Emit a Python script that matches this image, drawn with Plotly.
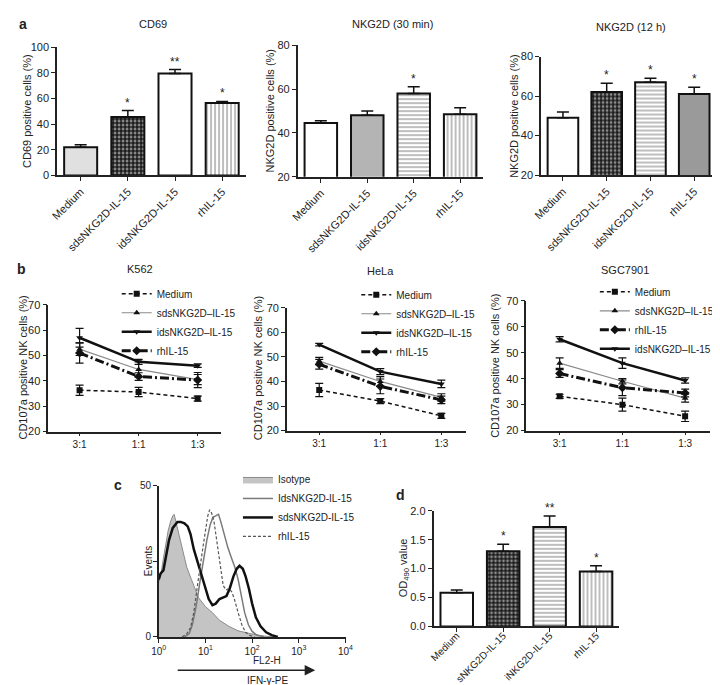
import plotly.graph_objects as go

W, H = 720, 685
FONT = "Liberation Sans, Arial, sans-serif"
INK = "#222222"

# ---------------- data ----------------
cats_a = ["Medium", "sdsNKG2D-IL-15", "idsNKG2D-IL-15", "rhIL-15"]
cd69_vals = [22, 45.5, 79.5, 56.5]
cd69_err = [2, 5, 3, 1.2]
cd69_stars = ["", "*", "**", "*"]

nkg30_vals = [44.5, 48, 58, 48.5]
nkg30_err = [1, 2, 3, 3]
nkg30_stars = ["", "", "*", ""]

nkg12_vals = [49, 62, 67, 61]
nkg12_err = [3, 4.5, 2, 3.5]
nkg12_stars = ["", "*", "*", "*"]

ratios = ["3:1", "1:1", "1:3"]
k562 = {
    "Medium": ([36.3, 35.6, 33.0], [2, 1.8, 1]),
    "sdsNKG2D\u2013IL-15": ([52.5, 44.5, 40.5], [2.5, 3, 2]),
    "idsNKG2D\u2013IL-15": ([57, 47.5, 46], [3.7, 1, 0.7]),
    "rhIL-15": ([51, 41.7, 40.3], [4, 1.5, 3]),
}
hela = {
    "Medium": ([36.5, 32, 26], [2.7, 1, 1]),
    "sdsNKG2D\u2013IL-15": ([48.3, 40, 33.5], [1.5, 2, 1.5]),
    "idsNKG2D\u2013IL-15": ([55, 44, 39], [0.5, 1.2, 1.5]),
    "rhIL-15": ([47, 38, 32.5], [2, 3, 1.5]),
}
sgc = {
    "Medium": ([33.2, 30, 25.5], [0.8, 2.5, 2]),
    "sdsNKG2D\u2013IL-15": ([46, 39, 32.5], [2, 1, 1.5]),
    "rhIL-15": ([42, 36.5, 34.5], [1.5, 3, 1.5]),
    "idsNKG2D\u2013IL-15": ([55.2, 46, 39.3], [1, 2, 1]),
}

iso_logx = [0.0, 0.05, 0.1, 0.15, 0.2, 0.25, 0.3, 0.33, 0.37, 0.42, 0.5, 0.6, 0.7, 0.75, 0.85, 1.0, 1.15, 1.3, 1.5, 1.7, 1.9, 2.1, 2.3, 2.5]
iso_y = [18, 21, 26, 31, 35, 38, 40, 40.5, 38, 34, 29, 23, 19, 17, 13, 10, 8, 5.5, 3.5, 2, 1.2, 0.6, 0.2, 0]
sds_logx = [0.0, 0.04, 0.1, 0.16, 0.22, 0.3, 0.4, 0.47, 0.55, 0.62, 0.68, 0.75, 0.84, 0.92, 1.0, 1.07, 1.15, 1.22, 1.3, 1.38, 1.45, 1.52, 1.6, 1.67, 1.73, 1.8, 1.86, 1.93, 2.0, 2.08, 2.18, 2.3, 2.42, 2.55]
sds_y = [19, 21, 22, 27, 32, 36, 38, 38, 37.5, 36.5, 34, 29, 24.5, 20, 16.5, 12.5, 10.5, 11, 12.5, 13, 13.5, 16, 20, 22.5, 23.5, 22.5, 20, 16, 11, 6.5, 3.5, 1.5, 0.6, 0]
ids_logx = [0.55, 0.65, 0.72, 0.8, 0.88, 0.96, 1.03, 1.1, 1.16, 1.22, 1.28, 1.33, 1.4, 1.48, 1.56, 1.63, 1.7, 1.77, 1.84, 1.92, 2.0, 2.1, 2.25]
ids_y = [0, 1, 4, 10, 18, 26, 32, 37, 39.5, 40, 40.5, 38, 34, 29.5, 26, 23, 19, 14, 8, 4, 1.8, 0.6, 0]
rh_logx = [0.5, 0.6, 0.68, 0.75, 0.82, 0.88, 0.95, 1.0, 1.05, 1.09, 1.13, 1.18, 1.23, 1.28, 1.33, 1.38, 1.44, 1.5, 1.56, 1.62, 1.7, 1.78, 1.86, 1.95, 2.05]
rh_y = [0, 1, 3, 8, 16, 23, 30, 35, 40, 42, 41, 38.5, 33, 27, 21, 17, 15.5, 16, 15, 12.5, 8, 4, 1.5, 0.5, 0]

cats_d = ["Medium", "sNKG2D-IL-15", "iNKG2D-IL-15", "rhIL-15"]
od_vals = [0.58, 1.30, 1.72, 0.95]
od_err = [0.05, 0.12, 0.19, 0.10]
od_stars = ["", "*", "**", "*"]

# ---------------- helpers ----------------
def dx(l, r):
    return [l / W, r / W]

def dy(t, b):
    return [1 - b / H, 1 - t / H]

def px(x):
    return x / W

def py(y):
    return 1 - y / H

def ax(**kw):
    d = dict(showline=True, linecolor=INK, linewidth=1.5, ticks="outside", ticklen=4,
             tickwidth=1.3, tickcolor=INK, showgrid=False, zeroline=False,
             tickfont=dict(size=11, color=INK, family=FONT), fixedrange=True)
    d.update(kw)
    return d

# pattern styles (per bar)
PAT = {
    "grey": dict(color="#e0e0e0", shape="", fg="#000000", bg="#e0e0e0", sol=0.5),
    "white": dict(color="#ffffff", shape="", fg="#000000", bg="#ffffff", sol=0.5),
    "checker": dict(color="#1a1a1a", shape=".", fg="#ffffff", bg="#1a1a1a", sol=0.4),
    "hlines": dict(color="#ffffff", shape="-", fg="#606060", bg="#ffffff", sol=0.35),
    "vlines": dict(color="#ffffff", shape="|", fg="#555555", bg="#ffffff", sol=0.35),
    "dgrey": dict(color="#9a9a9a", shape="", fg="#000000", bg="#9a9a9a", sol=0.5),
    "mgrey": dict(color="#b4b4b4", shape="", fg="#000000", bg="#b4b4b4", sol=0.5),
}

fig = go.Figure()
annotations = []

def bars(cats, vals, errs, stars, styles, xa, ya):
    fig.add_trace(go.Bar(
        x=cats, y=vals, xaxis=xa, yaxis=ya, width=0.7, showlegend=False,
        marker=dict(
            color=[PAT[s]["color"] for s in styles],
            line=dict(color="#111111", width=2),
            pattern=dict(shape=[PAT[s]["shape"] for s in styles],
                         fgcolor=[PAT[s]["fg"] for s in styles],
                         bgcolor=[PAT[s]["bg"] for s in styles],
                         solidity=[PAT[s]["sol"] for s in styles],
                         size=4),
        ),
        error_y=dict(type="data", array=errs, arrayminus=[0] * len(errs), symmetric=False,
                     color="#111111", thickness=1.5, width=6),
    ))
    for c, v, e, s in zip(cats, vals, errs, stars):
        if s:
            annotations.append(dict(x=c, y=v + e, xref=xa, yref=ya, text=s, showarrow=False,
                                    yanchor="bottom", yshift=-1,
                                    font=dict(size=12, color=INK, family=FONT)))

bars(cats_a, cd69_vals, cd69_err, cd69_stars, ["grey", "checker", "white", "vlines"], "x", "y")
bars(cats_a, nkg30_vals, nkg30_err, nkg30_stars, ["white", "mgrey", "hlines", "vlines"], "x2", "y2")
bars(cats_a, nkg12_vals, nkg12_err, nkg12_stars, ["white", "checker", "hlines", "dgrey"], "x3", "y3")
bars(cats_d, od_vals, od_err, od_stars, ["white", "checker", "hlines", "vlines"], "x8", "y8")

LSTYLE = {
    "Medium": dict(line=dict(color="#111111", width=1.5, dash="4px,3px"), marker=dict(symbol="square", size=6, color="#111111")),
    "sdsNKG2D\u2013IL-15": dict(line=dict(color="#8a8a8a", width=1.2), marker=dict(symbol="triangle-up", size=6, color="#111111")),
    "idsNKG2D\u2013IL-15": dict(line=dict(color="#111111", width=2.5), marker=dict(symbol="triangle-down", size=6, color="#111111")),
    "rhIL-15": dict(line=dict(color="#111111", width=3, dash="9px,3px,2px,3px"), marker=dict(symbol="diamond", size=7, color="#111111")),
}

def lines(data, xa, ya, leg):
    for name, (vals, errs) in data.items():
        st = LSTYLE[name]
        fig.add_trace(go.Scatter(
            x=ratios, y=vals, xaxis=xa, yaxis=ya, name=name, legend=leg, mode="lines+markers",
            line=st["line"], marker=st["marker"],
            error_y=dict(type="data", array=errs, color="#111111", thickness=1.2, width=4),
        ))

lines(k562, "x4", "y4", "legend")
lines(hela, "x5", "y5", "legend2")
lines(sgc, "x6", "y6", "legend3")

# histogram (panel c)
fig.add_trace(go.Scatter(x=[10 ** v for v in iso_logx], y=iso_y, xaxis="x7", yaxis="y7", name="Isotype",
                         legend="legend4", mode="lines", fill="tozeroy", fillcolor="#c4c4c4",
                         line=dict(color="#8a8a8a", width=1)))
fig.add_trace(go.Scatter(x=[10 ** v for v in ids_logx], y=ids_y, xaxis="x7", yaxis="y7", name="IdsNKG2D-IL-15",
                         legend="legend4", mode="lines", line=dict(color="#7a7a7a", width=1.5)))
fig.add_trace(go.Scatter(x=[10 ** v for v in sds_logx], y=sds_y, xaxis="x7", yaxis="y7", name="sdsNKG2D-IL-15",
                         legend="legend4", mode="lines", line=dict(color="#111111", width=2.5)))
fig.add_trace(go.Scatter(x=[10 ** v for v in rh_logx], y=rh_y, xaxis="x7", yaxis="y7", name="rhIL-15",
                         legend="legend4", mode="lines", line=dict(color="#555555", width=1.2, dash="3px,2px")))

xcat = dict(type="category", range=[-0.5, 3.5], tickangle=-45, tickfont=dict(size=11, color=INK, family=FONT))
xcat_d = dict(type="category", range=[-0.5, 3.5], tickangle=-45, ticklabelstandoff=-6,
              tickfont=dict(size=10, color=INK, family=FONT))
xrat = dict(type="category", range=[-0.53, 2.4], ticklen=3, tickfont=dict(size=10, color=INK, family=FONT))

leg_common = dict(bgcolor="rgba(0,0,0,0)", font=dict(size=10, color=INK, family=FONT),
                  xanchor="left", yanchor="top", tracegroupgap=0, itemwidth=30)

fig.update_layout(
    width=W, height=H, margin=dict(l=0, r=0, t=0, b=0), autosize=False,
    paper_bgcolor="white", plot_bgcolor="white",
    font=dict(family=FONT, color=INK, size=11),
    bargap=0.3,
    xaxis=ax(domain=dx(42, 235), anchor="y", **xcat),
    yaxis=ax(domain=dy(33.7, 164.3), anchor="x", range=[0, 100], dtick=20),
    xaxis2=ax(domain=dx(288, 478), anchor="y2", **xcat),
    yaxis2=ax(domain=dy(31.7, 165.7), anchor="x2", range=[20, 80], dtick=20),
    xaxis3=ax(domain=dx(537, 716), anchor="y3", **xcat),
    yaxis3=ax(domain=dy(43.3, 164), anchor="x3", range=[20, 80], dtick=20),
    xaxis4=ax(domain=dx(33, 210), anchor="y4", **xrat),
    yaxis4=ax(domain=dy(296, 425), anchor="x4", range=[20, 70], dtick=10),
    xaxis5=ax(domain=dx(277, 460), anchor="y5", **xrat),
    yaxis5=ax(domain=dy(299, 424), anchor="x5", range=[20, 70], dtick=10),
    xaxis6=ax(domain=dx(522, 710), anchor="y6", **xrat),
    yaxis6=ax(domain=dy(292, 424), anchor="x6", range=[20, 70], dtick=10),
    xaxis7=ax(domain=dx(146, 337), anchor="y7", type="log", range=[0, 4],
              tickvals=[1, 10, 100, 1000, 10000],
              ticktext=["10<sup>0</sup>", "10<sup>1</sup>", "10<sup>2</sup>", "10<sup>3</sup>", "10<sup>4</sup>"],
              tickfont=dict(size=10, color=INK, family=FONT)),
    yaxis7=ax(domain=dy(480, 634), anchor="x7", range=[0, 50], tickvals=[0, 25, 50], ticktext=["0", "", "50"],
              tickfont=dict(size=10, color=INK, family=FONT)),
    xaxis8=ax(domain=dx(427, 617), anchor="y8", **xcat_d),
    yaxis8=ax(domain=dy(505.7, 623.3), anchor="x8", range=[0, 2], dtick=0.5, tickformat=".1f"),
    legend=dict(x=px(103), y=py(270), **leg_common),
    legend2=dict(x=px(348), y=py(271), **leg_common),
    legend3=dict(x=px(592), y=py(268), **leg_common),
    legend4=dict(x=px(227), y=py(459), **leg_common),
)

def txt(x, y, s, size=11, bold=False, angle=0):
    annotations.append(dict(x=px(x), y=py(y), xref="paper", yref="paper", text=("<b>%s</b>" % s) if bold else s,
                            showarrow=False, xanchor="center", yanchor="middle", textangle=angle,
                            font=dict(size=size, color=INK, family=FONT)))

# panel letters
txt(7, 10, "a", 14, True)
txt(6, 260, "b", 14, True)
txt(104, 479, "c", 14, True)
txt(393, 490, "d", 14, True)
# titles
txt(140, 10, "CD69", 11)
txt(385, 10, "NKG2D (30 min)", 11)
txt(629, 13, "NKG2D (12 h)", 11)
txt(127, 260, "K562", 11)
txt(373, 262, "HeLa", 11)
txt(623, 261, "SGC7901", 11)
# y titles
txt(12, 99, "CD69 positive cells (%)", 11, angle=-90)
txt(260, 99, "NKG2D positive cells (%)", 11, angle=-90)
txt(510, 104, "NKG2D positive cells (%)", 11, angle=-90)
txt(7, 360, "CD107a positive NK cells (%)", 11, angle=-90)
txt(247, 361, "CD107a positive NK cells (%)", 11, angle=-90)
txt(490, 358, "CD107a positive NK cells (%)", 11, angle=-90)
txt(135, 557, "Events", 10, angle=-90)
txt(397, 564, "OD<sub>490</sub> value", 11, angle=-90)
# panel c labels + arrow
txt(257, 658, "FL2-H", 10)
txt(257, 678, "IFN-\u03b3-PE", 10)
annotations.append(dict(x=px(306), y=py(668), xref="paper", yref="paper", ax=-139, ay=0,
                        axref="pixel", ayref="pixel", text="", showarrow=True, arrowhead=2,
                        arrowsize=1.4, arrowwidth=1.5, arrowcolor=INK))

fig.update_layout(annotations=annotations)
fig.write_html("out.html")
